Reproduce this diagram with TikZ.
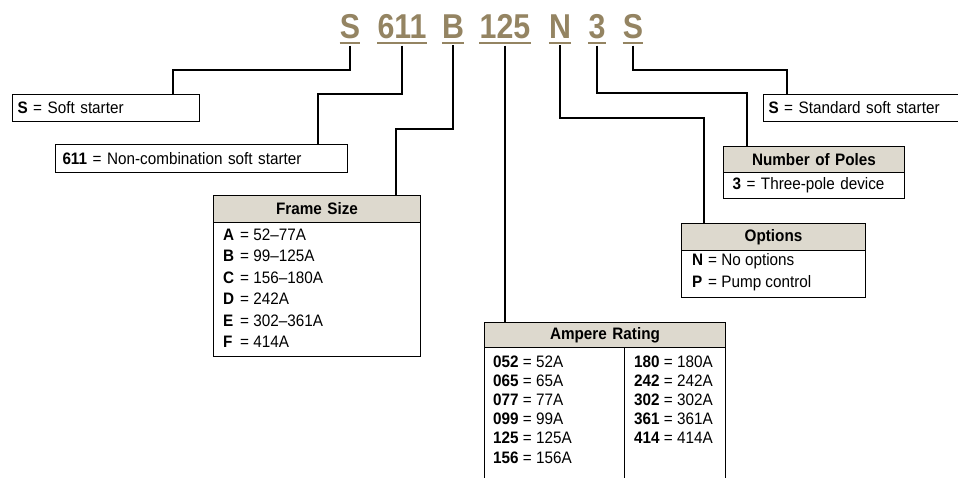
\documentclass[tikz,border=0pt]{standalone}
\usepackage{fontspec}
\setmainfont[FakeStretch=0.92]{Liberation Sans}
\newfontfamily\codefont[FakeStretch=0.88]{Liberation Sans}
\newcommand\keyfont{\fontsize{16.6}{19}\selectfont}
\definecolor{codebrown}{HTML}{948462}
\definecolor{headgrey}{HTML}{DDD9CE}
\tikzset{
	code/.style={anchor=base, inner sep=0pt, text=codebrown, font={\fontsize{34.5}{40}\codefont\bfseries}},
	uline/.style={codebrown, line width=2.2pt},
	conn/.style={line width=2pt},
	keybox/.style={draw, line width=1pt, anchor=north west, inner xsep=5pt, inner ysep=0pt, align=left},
	headbox/.style={keybox, fill=headgrey, align=center, font={\keyfont\bfseries}},
	entry/.style={anchor=base west, inner sep=0pt}
}
\begin{document}
\begin{tikzpicture}[x=1pt, y=-1pt, font=\keyfont]
\useasboundingbox (0,0) rectangle (958,477);
% catalogue number
\foreach \n / \x / \t in {1/350/S, 2/402/611, 3/453/B, 4/505/125, 5/560/N, 6/597/3, 7/633/S} {
	\node[code] (t\n) at (\x,38) {\t};
	\draw[uline] ([yshift=-5pt]t\n.base west) -- ([yshift=-5pt]t\n.base east);
}

% single line boxes
\node[keybox, text width=177pt, minimum height=27pt] (sbox) at (12,94) {\textbf{S} = Soft starter};
\node[keybox, text width=278pt, minimum height=28pt, inner xsep=7pt] (pbox) at (55,144) {\textbf{611} = Non-combination soft starter};
\node[keybox, text width=190pt, minimum height=27pt] (stdbox) at (763,94) {\textbf{S} = Standard soft starter};

% frame size
\node[headbox, text width=197pt, minimum height=27pt] (fhead) at (213,195) {Frame Size};
\node[keybox, minimum width=207pt, minimum height=134pt] (fbody) at (213,222) {};
\foreach \k / \v [count=\i from 0] in {A/52--77A, B/99--125A, C/156--180A, D/242A, E/302--361A, F/414A} {
	\node[entry] (f\k) at (223,{240+21.5*\i}) {\makebox[17pt][l]{\bfseries\k}= \v};
}

% ampere rating
\node[headbox, text width=231pt, minimum height=25pt] (ahead) at (484,322) {Ampere Rating};
\node[keybox, minimum width=241pt, minimum height=135pt] (abody) at (484,347) {};
\draw[line width=1pt] ([xshift=140pt]abody.north west) -- ([xshift=140pt]abody.south west);
\foreach \k / \v [count=\i from 0] in {052/52, 065/65, 077/77, 099/99, 125/125, 156/156} {
	\node[entry] (a\i) at (493,{367+19.2*\i}) {\textbf{\k} = \v A};
}
\foreach \k [count=\i from 0] in {180, 242, 302, 361, 414} {
	\node[entry] (b\i) at (634,{367+19.2*\i}) {\textbf{\k} = \k A};
}

% options
\node[headbox, text width=174pt, minimum height=27pt] (ohead) at (681,223) {Options};
\node[keybox, minimum width=184pt, minimum height=47pt] (obody) at (681,250) {};
\foreach \k / \v [count=\i from 0] in {N/No options, P/Pump control} {
	\node[entry] (o\k) at (692,{265+22*\i}) {\makebox[16pt][l]{\bfseries\k}= \v};
}

% number of poles
\node[headbox, text width=171pt, minimum height=26pt] (nhead) at (723,146) {Number of Poles};
\node[keybox, text width=171pt, minimum height=26pt] (nbody) at (723,172) {\hspace{4pt}\textbf{3} = Three-pole device};

% connectors
\coordinate (c1) at (173,70);
\coordinate (c2) at (318,94);
\coordinate (c3) at (396,129);
\coordinate (c5) at (704,118);
\coordinate (c6) at (747,93);
\coordinate (c7) at (787,70);
\draw[conn] ([yshift=-7pt]t1.south) |- (c1) -- (c1 |- sbox.north);
\draw[conn] ([yshift=-7pt]t2.south) |- (c2) -- (c2 |- pbox.north);
\draw[conn] ([yshift=-7pt]t3.south) |- (c3) -- (c3 |- fhead.north);
\draw[conn] ([yshift=-7pt]t4.south) -- (t4.south |- ahead.north);
\draw[conn] ([yshift=-7pt]t5.south) |- (c5) -- (c5 |- ohead.north);
\draw[conn] ([yshift=-7pt]t6.south) |- (c6) -- (c6 |- nhead.north);
\draw[conn] ([yshift=-7pt]t7.south) |- (c7) -- (c7 |- stdbox.north);
\end{tikzpicture}
\end{document}
